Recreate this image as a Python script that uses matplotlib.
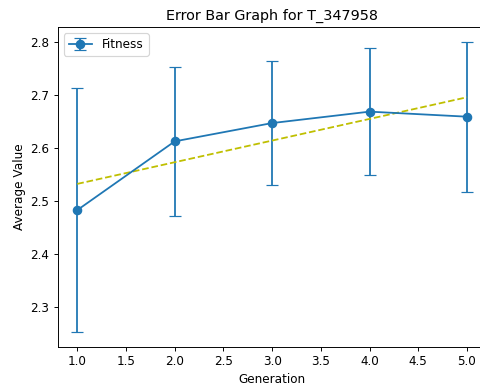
import numpy as np
import matplotlib
matplotlib.use("Agg")
import matplotlib.pyplot as plt

generations = [1, 2, 3, 4, 5]
fitness_mean = [2.483, 2.6125, 2.647, 2.6685, 2.659]
fitness_err = [0.230, 0.140, 0.116, 0.119, 0.141]

DPI = 86
fig = plt.figure(figsize=(480 / DPI, 387 / DPI), dpi=DPI)
ax = fig.add_axes([0.1204, 0.1041, 1.0135 - 0.1204, 0.9294 - 0.1041])

ax.errorbar(generations, fitness_mean, yerr=fitness_err, fmt='-o', capsize=5,
            markersize=7, label='Fitness')
z = np.polyfit(generations, fitness_mean, 1)
p = np.poly1d(z)
ax.plot(generations, p(generations), 'y--')

ax.set_title('Error Bar Graph for T_347958')
ax.set_xlabel('Generation')
ax.set_ylabel('Average Value')
ax.legend(loc='upper left')

fig.savefig('out.png', dpi=DPI)
